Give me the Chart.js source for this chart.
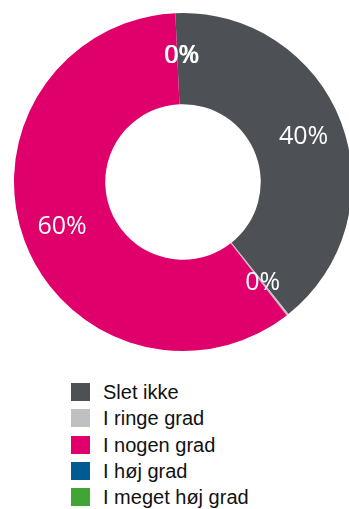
<!DOCTYPE html>
<html>
<head>
<meta charset="utf-8">
<script src="https://cdn.jsdelivr.net/npm/chart.js@4.4.0/dist/chart.umd.min.js"></script>
<style>
    html, body { margin: 0; padding: 0; background: #fff; overflow: hidden; width: 349px; height: 509px; }
    #wrap { position: absolute; left: 0; top: 0; width: 366px; height: 364px; }
    #legend { position: absolute; left: 71px; top: 383px; font-family: "Liberation Sans", Arial, sans-serif; font-size: 20px; color: #111; }
    .row { height: 26.3px; position: relative; }
    .box { position: absolute; left: 0; top: 0; width: 19px; height: 18px; }
    .lbl { position: absolute; left: 32px; top: -2px; line-height: 22px; white-space: nowrap; }
</style>
</head>
<body>
<div id="wrap"><canvas id="donut" width="366" height="364"></canvas></div>
<div id="legend"></div>
<script>
// categories and values (percent)
var categories = ['Slet ikke', 'I ringe grad', 'I nogen grad', 'I høj grad', 'I meget høj grad'];
var values = [40, 0.2, 59.8, 0, 0];
var colors = ['#4d5156', '#bdc1c4', '#e0006b', '#005b92', '#3fa535'];

// percentage labels drawn in each slice
var sliceLabels = {
    id: 'sliceLabels',
    afterDatasetsDraw: function (chart) {
        var ctx = chart.ctx;
        var meta = chart.getDatasetMeta(0);
        ctx.save();
        ctx.font = '25px "Open Sans", sans-serif';
        ctx.fillStyle = '#ffffff';
        ctx.textAlign = 'center';
        ctx.textBaseline = 'middle';
        meta.data.forEach(function (arc, i) {
            var p = arc.getProps(['x', 'y', 'startAngle', 'endAngle', 'innerRadius', 'outerRadius'], true);
            var mid = (p.startAngle + p.endAngle) / 2;
            var r = p.innerRadius + 0.56 * (p.outerRadius - p.innerRadius);
            // the two empty slices share the top spot; nudge them a little apart
            var dx = values[i] === 0 ? (i === 3 ? 4 : 5) : 0;
            var dy = values[i] === 0 ? 3 : 0;
            ctx.fillText(Math.round(values[i]) + '%', p.x + Math.cos(mid) * r + dx, p.y + Math.sin(mid) * r + dy);
        });
        ctx.restore();
    }
};

var ctx = document.getElementById('donut').getContext('2d');
var donutChart = new Chart(ctx, {
    type: 'doughnut',
    data: {
        labels: categories,
        datasets: [{
            data: values,
            backgroundColor: colors,
            borderWidth: 0
        }]
    },
    options: {
        responsive: false,
        animation: false,
        devicePixelRatio: 1,
        rotation: -2.6,
        cutout: '46%',
        layout: { padding: { left: 14, right: 14, top: 13, bottom: 13 } },
        plugins: {
            legend: { display: false },
            tooltip: { enabled: false }
        }
    },
    plugins: [sliceLabels]
});

// legend list under the chart
var legendEl = document.getElementById('legend');
categories.forEach(function (name, i) {
    var row = document.createElement('div');
    row.className = 'row';
    row.innerHTML = '<span class="box" style="background:' + colors[i] + '"></span><span class="lbl">' + name + '</span>';
    legendEl.appendChild(row);
});
</script>
</body>
</html>
